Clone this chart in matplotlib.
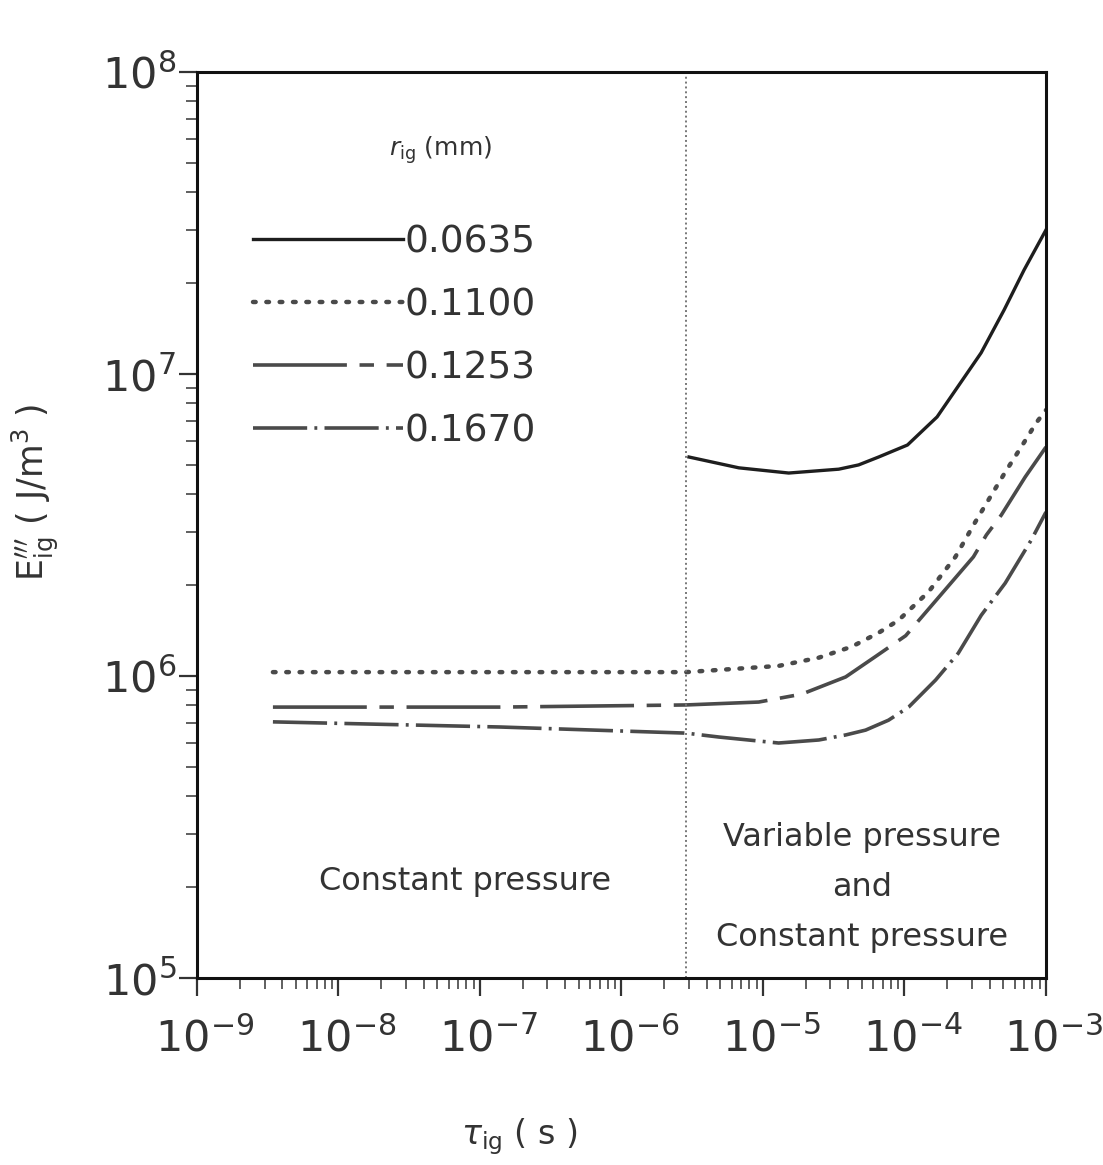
import numpy as np
import matplotlib
matplotlib.use('Agg')
import matplotlib.pyplot as plt
import matplotlib.transforms as mtransforms

# values (log-log axes)
tau_0635 = [3.0e-6, 6.75e-6, 1.52e-5, 3.43e-5, 4.74e-5, 6.56e-5, 1.05e-4, 1.70e-4,
            3.48e-4, 5.06e-4, 7.0e-4, 1.0e-3]
E_0635 = [5.31e6, 4.89e6, 4.70e6, 4.84e6, 5.0e6, 5.31e6, 5.82e6, 7.21e6,
          1.175e7, 1.63e7, 2.21e7, 3.0e7]

tau_1100 = [3.44e-9, 1.37e-7, 2.86e-6, 1.29e-5, 2.48e-5, 4.23e-5, 6.56e-5, 9.08e-5,
            1.48e-4, 2.29e-4, 3.17e-4, 4.11e-4, 5.15e-4, 6.68e-4, 8.53e-4, 1.0e-3]
E_1100 = [1.03e6, 1.03e6, 1.03e6, 1.08e6, 1.15e6, 1.25e6, 1.39e6, 1.53e6,
          1.90e6, 2.48e6, 3.24e6, 3.97e6, 4.73e6, 5.73e6, 6.89e6, 7.6e6]

tau_1253 = [3.44e-9, 1.37e-7, 2.86e-6, 9.33e-6, 1.88e-5, 3.84e-5, 6.24e-5, 1.02e-4,
            3.07e-4, 3.79e-4, 4.83e-4, 7.13e-4, 1.0e-3]
E_1253 = [7.89e5, 7.89e5, 8.02e5, 8.2e5, 8.71e5, 9.93e5, 1.16e6, 1.36e6,
          2.48e6, 2.93e6, 3.41e6, 4.56e6, 5.73e6]

tau_1670 = [3.44e-9, 1.37e-7, 2.86e-6, 4.88e-6, 1.29e-5, 2.48e-5, 3.84e-5, 5.31e-5,
            7.71e-5, 1.07e-4, 1.66e-4, 2.4e-4, 3.49e-4, 5.15e-4, 7.87e-4, 1.0e-3]
E_1670 = [7.05e5, 6.78e5, 6.47e5, 6.28e5, 6.0e5, 6.14e5, 6.38e5, 6.62e5,
          7.14e5, 7.89e5, 9.7e5, 1.19e6, 1.59e6, 2.03e6, 2.82e6, 3.49e6]

radii = ['0.0635', '0.1100', '0.1253', '0.1670']
tau_switch = 2.86e-6

plt.rcParams['mathtext.fontset'] = 'dejavusans'
ink = '#333333'

fig = plt.figure(figsize=(11.03, 11.65), dpi=100)
ax = fig.add_axes([0.1786, 0.1605, 0.7697, 0.7777])
ax.set_xscale('log')
ax.set_yscale('log')
ax.set_xlim(1e-9, 1e-3)
ax.set_ylim(1e5, 1e8)

ax.plot(tau_0635, E_0635, color='#1e1e1e', lw=2.4, ls='-', label=radii[0])
ax.plot(tau_1100, E_1100, color='#4a4a4a', lw=3.2, ls=(0, (0.6, 2.4)),
        dash_capstyle='round', label=radii[1])
ax.plot(tau_1253, E_1253, color='#4a4a4a', lw=2.6, ls=(0, (26, 3.5, 4, 3.5)), label=radii[2])
ax.plot(tau_1670, E_1670, color='#4a4a4a', lw=2.6, ls=(0, (15, 2.0, 0.8, 2.0)), label=radii[3])

ax.axvline(tau_switch, color='#777777', lw=1.4, ls=(0, (1, 1.5)))

for s in ax.spines.values():
    s.set_linewidth(2.2)
    s.set_color('#111111')

ax.tick_params(which='major', direction='out', length=13, width=1.6, labelsize=31,
               colors=ink)
ax.tick_params(which='minor', direction='out', length=8, width=1.2, colors='#444444')
ax.tick_params(axis='x', which='major', pad=16)
ax.tick_params(axis='y', which='major', pad=2)
ax.tick_params(top=False, right=False, which='both')
ax.set_xticks([1e-9, 1e-8, 1e-7, 1e-6, 1e-5, 1e-4, 1e-3])
ax.set_yticks([1e5, 1e6, 1e7, 1e8])

# the "10" sits on the tick in the original, exponent hangs to the right
shift = mtransforms.ScaledTranslation(0.08, 0, fig.dpi_scale_trans)
for lab in ax.get_xticklabels():
    lab.set_transform(lab.get_transform() + shift)

ax.set_xlabel(r'$\tau_{\mathrm{ig}}$ ( s )', fontsize=24, color=ink)
ax.xaxis.set_label_coords(0.38, -0.152)
ax.set_ylabel(r'$\mathrm{E}^{\prime\prime\prime}_{\mathrm{ig}}$ ( J/m$^{3}$ )', fontsize=25,
              color=ink)
ax.yaxis.set_label_coords(-0.16, 0.536)

leg = ax.legend(loc='upper left', bbox_to_anchor=(0.066, 0.832), frameon=False,
                fontsize=27, handlelength=4.0, handletextpad=0.05, labelspacing=0.72,
                borderpad=0, borderaxespad=0)
for t in leg.get_texts():
    t.set_color(ink)

ax.text(0.226, 0.914, r'$r_{\mathrm{ig}}$ (mm)', transform=ax.transAxes, fontsize=18,
        color=ink, ha='left', va='center')

ax.text(0.316, 0.106, 'Constant pressure', transform=ax.transAxes, fontsize=23,
        color=ink, ha='center', va='center')
ax.text(0.783, 0.100, 'Variable pressure\nand\nConstant pressure', transform=ax.transAxes,
        fontsize=23, color=ink, ha='center', va='center', linespacing=1.8)

fig.savefig('out.png', dpi=100, facecolor='white')
